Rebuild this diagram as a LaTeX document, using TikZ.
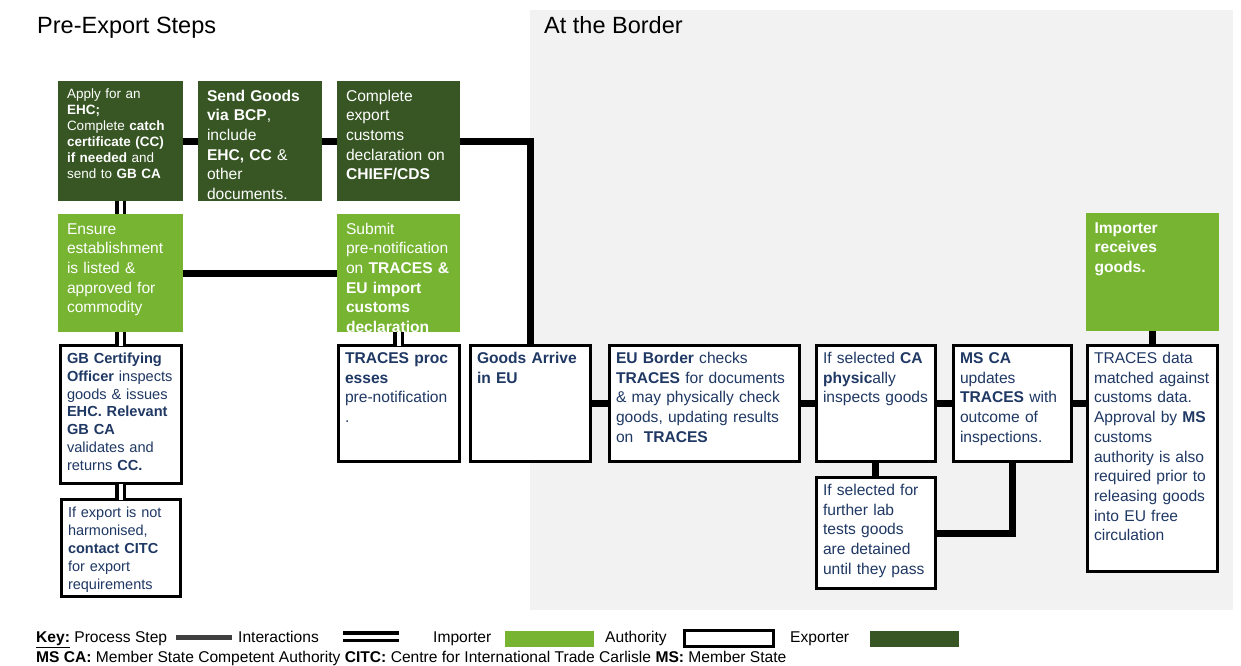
\documentclass[tikz,border=0pt]{standalone}
\usepackage{fontspec}
\setmainfont{Liberation Sans}
\usepackage{tikz}
\usetikzlibrary{positioning}
\usepackage{xcolor}

\definecolor{exportgreen}{RGB}{55,86,35}
\definecolor{importgreen}{RGB}{118,180,50}
\definecolor{authnavy}{RGB}{31,56,100}
\definecolor{bordergray}{RGB}{242,242,242}
\definecolor{keygray}{RGB}{64,64,64}

\newcommand{\boxfont}{\fontsize{15.6}{19.7}\selectfont}

\begin{document}
\begin{tikzpicture}[
    x=1pt, y=-1pt,
    stepbox/.style 2 args={rectangle, outer sep=0pt, text width=#1-18pt, inner xsep=9pt, inner ysep=6pt, text height=14pt, text depth=#2-26pt, align=left, font=\boxfont},
    authbox/.style 2 args={rectangle, outer sep=0pt, draw=black, line width=3pt, fill=white, text=authnavy, text width=#1-14pt, inner xsep=7pt, inner ysep=6pt, text height=12pt, text depth=#2-24pt, align=left, font=\boxfont},
    exporter/.style={fill=exportgreen, text=white},
    importer/.style={fill=importgreen, text=white},
    link/.style={line width=7pt},
    dlink/.style={line width=3.4pt, double=white, double distance=4pt},
    heading/.style={font=\fontsize{23.5}{28}\selectfont, anchor=base west, inner sep=0pt},
    keytext/.style={font=\fontsize{15.6}{18}\selectfont, anchor=base west, inner sep=0pt},
    swatch/.style={minimum width=89pt, minimum height=16pt, inner sep=0pt}
]
\useasboundingbox (0,0) rectangle (1241,665);

% Border area
\fill[bordergray] (530,10) rectangle (1233,610);

\node[heading] (pre-title) at (37,33.5) {Pre-Export Steps};
\node[heading] (border-title) at (544,33.5) {At the Border};

% Exporter steps (top row)
\node[stepbox={125pt}{120pt}, exporter, anchor=north west, text height=11pt, text depth=97pt, font=\fontsize{13.5}{16}\selectfont] (ehc) at (58,81) {Apply for an\\\textbf{EHC;}\\Complete~\textbf{catch}\\\textbf{certificate~(CC)}\\\textbf{if needed} and\\send to \textbf{GB CA}};
\node[stepbox={124pt}{120pt}, exporter, right=15pt of ehc.north east, anchor=north west] (bcp) {\textbf{Send Goods}\\\textbf{via BCP},\\include\\\textbf{EHC, CC} \&\\other\\documents.};
\node[stepbox={123pt}{120pt}, exporter, right=15pt of bcp.north east, anchor=north west] (chief) {Complete\\export\\customs\\declaration~on\\\textbf{CHIEF/CDS}};

% Importer steps
\node[stepbox={125pt}{118pt}, importer, below=13pt of ehc.south west, anchor=north west] (estab) {Ensure\\establishment\\is listed \&\\approved~for\\commodity};
\node[stepbox={123pt}{118pt}, importer, below=13pt of chief.south west, anchor=north west] (prenote) {Submit\\pre-notification\\on~\textbf{TRACES~\&}\\\textbf{EU import}\\\textbf{customs}\\\textbf{declaration}};

% Authority steps
\node[authbox={121pt}{138pt}, below=13.5pt of estab.south, anchor=north, font=\fontsize{14.6}{17.8}\selectfont] (certify) {\textbf{GB~Certifying}\\\textbf{Officer}~inspects\\goods~\&~issues\\\textbf{EHC.~Relevant}\\\textbf{GB CA}\\validates~and\\returns \textbf{CC.}};
\node[authbox={119pt}{97pt}, below=16pt of certify.south, anchor=north, font=\fontsize{14.5}{18}\selectfont] (citc) {If~export~is~not\\harmonised,\\\textbf{contact~CITC}\\for export\\requirements};
\node[authbox={121pt}{116pt}, below=13.5pt of prenote.south, anchor=north] (processes) {\textbf{TRACES~proc}\\\textbf{esses}\\pre-notification\\.};

% At the border
\node[authbox={120pt}{116pt}, right=11pt of processes.north east, anchor=north west] (arrive) {\textbf{Goods~Arrive}\\\textbf{in EU}};
\node[authbox={190pt}{116pt}, right=19pt of arrive.north east, anchor=north west] (eucheck) {\textbf{EU Border} checks\\\textbf{TRACES}~for~documents\\\&~may~physically~check\\goods,~updating~results\\on~ \textbf{TRACES}};
\node[authbox={119pt}{116pt}, right=17pt of eucheck.north east, anchor=north west] (inspect) {If~selected~\textbf{CA}\\\textbf{physic}ally\\inspects~goods};
\node[authbox={118pt}{116pt}, right=18pt of inspect.north east, anchor=north west] (msca) {\textbf{MS CA}\\updates\\\textbf{TRACES}~with\\outcome of\\inspections.};
\node[authbox={130pt}{226pt}, right=16pt of msca.north east, anchor=north west] (matched) {TRACES data\\matched~against\\customs~data.\\Approval~by~\textbf{MS}\\customs\\authority~is~also\\required~prior~to\\releasing~goods\\into EU free\\circulation};
\node[authbox={119pt}{111pt}, below=16pt of inspect.south, anchor=north] (labtest) {If~selected~for\\further lab\\tests goods\\are detained\\until~they~pass};
\node[stepbox={133pt}{118pt}, importer, above=14.5pt of matched.north, anchor=south] (receives) {\textbf{Importer}\\\textbf{receives}\\\textbf{goods.}};

% Process steps
\draw[link] (ehc) -- (bcp);
\draw[link] (bcp) -- (chief);
\draw[link] (chief.east) -| (arrive.north);
\draw[link] (estab) -- (prenote);
\draw[link] (arrive) -- (eucheck);
\draw[link] (eucheck) -- (inspect);
\draw[link] (inspect) -- (msca);
\draw[link] (msca.east) -- (msca.east -| matched.west);
\draw[link] (inspect) -- (labtest);
\draw[link] (labtest.east) -| (msca.south);
\draw[link] (receives) -- (matched);

% Interactions
\draw[dlink] (ehc) -- (estab);
\draw[dlink] (estab) -- (certify);
\draw[dlink] (certify.south) -- (certify.south |- citc.north);
\draw[dlink] (prenote) -- (processes);

% Key
\node[keytext] (key-step) at (36,642.5) {\underline{\textbf{Key:}} Process Step};
\node[fill=keygray, minimum width=56pt, minimum height=5pt, inner sep=0pt] (key-bar) at (204,637) {};
\node[keytext] (key-inter) at (238,642.5) {Interactions};
\coordinate (key-dbl-a) at (343,636.5);
\coordinate (key-dbl-b) at (399,636.5);
\draw[dlink] (key-dbl-a) -- (key-dbl-b);
\node[keytext] (key-imp) at (433,642.5) {Importer};
\node[swatch, fill=importgreen] (key-imp-box) at (549.5,638.5) {};
\node[keytext] (key-auth) at (605,642.5) {Authority};
\node[swatch, draw=black, line width=2.5pt, fill=white] (key-auth-box) at (729,638.5) {};
\node[keytext] (key-exp) at (790,642.5) {Exporter};
\node[swatch, fill=exportgreen] (key-exp-box) at (914,638.5) {};
\node[keytext] (key-abbr) at (36,662) {\textbf{MS CA:} Member State Competent Authority \textbf{CITC:} Centre for International Trade Carlisle \textbf{MS:} Member State};

\end{tikzpicture}
\end{document}
